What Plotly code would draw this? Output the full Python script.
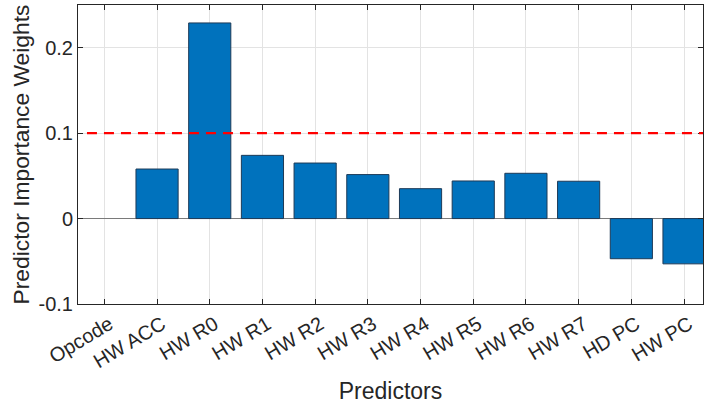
import plotly.graph_objects as go

# Predictor importance estimates
predictors = ["Opcode", "HW ACC", "HW R0", "HW R1", "HW R2", "HW R3",
              "HW R4", "HW R5", "HW R6", "HW R7", "HD PC", "HW PC"]
weights = [0.0, 0.058, 0.229, 0.074, 0.065, 0.0515,
           0.035, 0.044, 0.053, 0.0437, -0.047, -0.053]
threshold = 0.1

y_ticks = [-0.1, 0, 0.1, 0.2]
y_tick_labels = ["-0.1", "0", "0.1", "0.2"]

positions = list(range(1, len(predictors) + 1))
x_range = [0.5, 12.36]

font_family = "Liberation Sans, Arial, Helvetica, sans-serif"
axis_color = "#262626"

fig = go.Figure()

# zero-height bars get no outline so only the baseline shows
edge_widths = [0 if w == 0 else 1 for w in weights]

fig.add_trace(go.Bar(
    x=positions,
    y=weights,
    width=0.8,
    marker=dict(color="#0072BD", line=dict(color="#1d3a57", width=edge_widths)),
    showlegend=False,
))

# Importance threshold
fig.add_shape(
    type="line", xref="x", yref="y",
    x0=0.67, x1=x_range[1], y0=threshold, y1=threshold,
    line=dict(color="#FF0000", width=2.2, dash="10px,7px"),
    layer="above",
)

fig.update_layout(
    width=704, height=405,
    margin=dict(l=78, r=1, t=5, b=101),
    paper_bgcolor="white",
    plot_bgcolor="white",
    font=dict(family=font_family, size=20, color=axis_color),
    bargap=0.2,
)

fig.update_xaxes(
    range=x_range,
    tickvals=positions,
    ticktext=predictors,
    tickangle=-31,
    ticklabelshift=5,
    ticks="inside", ticklen=5, tickcolor=axis_color,
    showline=True, linecolor=axis_color, linewidth=1, mirror="ticks",
    showgrid=True, gridcolor="#e3e3e3", gridwidth=1,
    tickfont=dict(size=20, color=axis_color),
    title=dict(text="Predictors", font=dict(size=23, color=axis_color), standoff=11),
)

fig.update_yaxes(
    range=[-0.1, 0.25],
    tickvals=y_ticks,
    ticktext=y_tick_labels,
    ticks="inside", ticklen=5, tickcolor=axis_color,
    showline=True, linecolor=axis_color, linewidth=1, mirror="ticks",
    showgrid=True, gridcolor="#e3e3e3", gridwidth=1,
    zeroline=True, zerolinecolor="#7a7a7a", zerolinewidth=1,
    tickfont=dict(size=20, color=axis_color),
    title=dict(text="Predictor Importance Weights", font=dict(size=22.8, color=axis_color), standoff=2),
)

fig.write_html("out.html")
